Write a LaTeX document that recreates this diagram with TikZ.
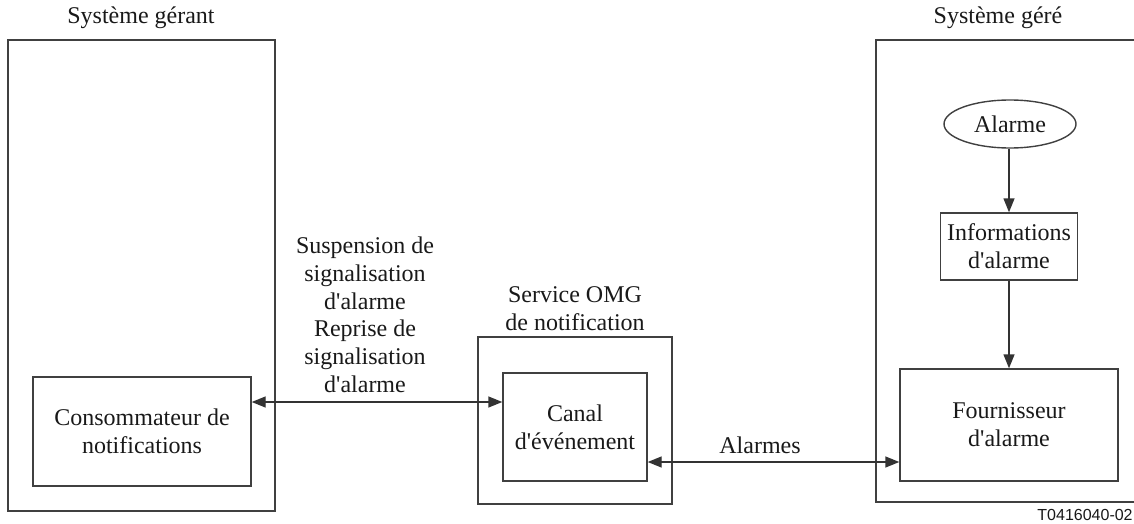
\documentclass[tikz,border=0pt]{standalone}
\usepackage{fontspec}
\setmainfont{Liberation Serif}
\newfontfamily\refsans{Liberation Sans}
\usetikzlibrary{positioning, arrows.meta, shapes.geometric}
\newcommand{\apos}{\textquotesingle}

\begin{document}
\begin{tikzpicture}[
    x=0.5pt,
    y=-0.5pt,
    >={Triangle[length=7pt, width=5.5pt]},
    line width=0.7pt,
    every node/.style={font=\fontsize{12}{14}\selectfont, align=center, text=black!90},
    box/.style={draw=black!75, rectangle, inner sep=0pt},
    link/.style={<->, draw=black!80},
    flow/.style={->, draw=black!80}
]
    \useasboundingbox (0,0) rectangle (1134,524);

    % systems
    \node[box, minimum width=133.5pt, minimum height=235.5pt] (gerant) at (141.5,275.5) {};
    \node[box, minimum width=137pt, minimum height=231pt] (gere) at (1013,271) {};
    \node (tgerant) at (141,18) {Syst\`eme g\'erant};
    \node (tgere) at (998,18) {Syst\`eme g\'er\'e};

    % service in the middle
    \node[box, minimum width=97pt, minimum height=83.5pt] (omg) at (575,420.5) {};
    \node (tomg) at (575,309) {Service OMG\\de notification};
    \node[box, minimum width=72pt, minimum height=54pt] (canal) at (575,427) {Canal\\d\apos\'ev\'enement};

    \node[box, minimum width=109pt, minimum height=54.5pt] (conso) at (142,431.5) {Consommateur de\\notifications};

    \node[box, ellipse, minimum width=66pt, minimum height=24pt] (alarme) at (1010,124) {Alarme};
    \node[box, minimum width=68.5pt, minimum height=33.5pt] (info) at (1009,246.5) {Informations\\d\apos alarme};
    \node[box, minimum width=109pt, minimum height=56pt] (fourn) at (1009,425) {Fournisseur\\d\apos alarme};

    \draw[flow] (alarme.south -| info.north) -- (info.north);
    \draw[flow] (info.south) -- (fourn.north);

    \draw[link] (conso.east |- 0,402) -- (canal.west |- 0,402);
    \draw[link] (canal.east |- 0,462) -- (fourn.west |- 0,462);

    \node (suspend) at (365,273) {Suspension de\\signalisation\\d\apos alarme};
    \node (reprise) at (365,356) {Reprise de\\signalisation\\d\apos alarme};
    \node (alarmes) at (760,445) {Alarmes};

    \node[font=\refsans\fontsize{8}{9}\selectfont, anchor=east] (code) at (1140,515) {T0416040-02};
\end{tikzpicture}
\end{document}
